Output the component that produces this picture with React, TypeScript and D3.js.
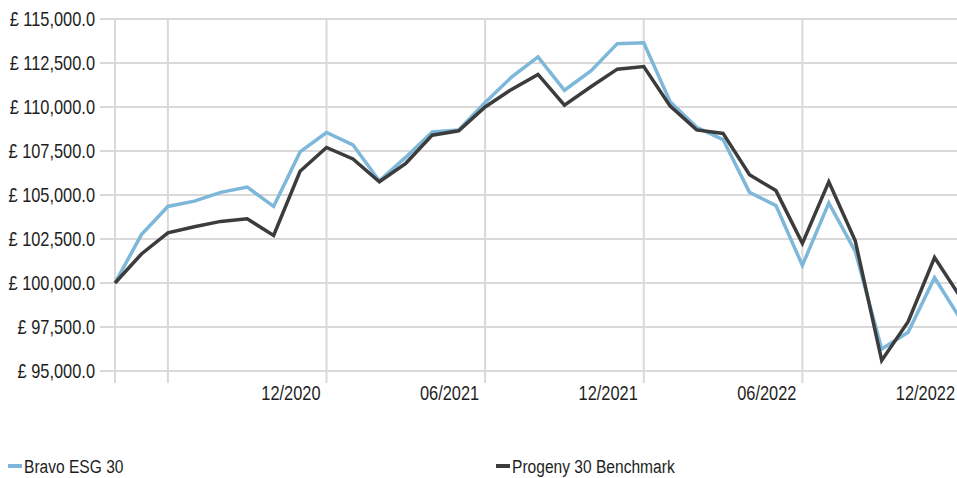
import { useEffect, useRef } from "react"
import * as d3 from "d3"

// monthly values, 04/2020 .. 12/2022
const months = [
  "04/2020", "05/2020", "06/2020", "07/2020", "08/2020", "09/2020", "10/2020", "11/2020", "12/2020",
  "01/2021", "02/2021", "03/2021", "04/2021", "05/2021", "06/2021", "07/2021", "08/2021", "09/2021",
  "10/2021", "11/2021", "12/2021", "01/2022", "02/2022", "03/2022", "04/2022", "05/2022", "06/2022",
  "07/2022", "08/2022", "09/2022", "10/2022", "11/2022", "12/2022",
]

const bravo = [
  100000, 102750, 104350, 104650, 105150, 105450, 104350, 107450, 108550,
  107850, 105800, 107150, 108580, 108700, 110250, 111700, 112850, 110950,
  112050, 113600, 113650, 110300, 108850, 108150, 105150, 104400, 101000,
  104550, 101800, 96250, 97200, 100300, 97900,
]

const progeny = [
  100000, 101650, 102850, 103200, 103500, 103650, 102700, 106350, 107700,
  107050, 105750, 106800, 108400, 108650, 110000, 111000, 111850, 110100,
  111150, 112150, 112300, 110050, 108700, 108500, 106150, 105250, 102250,
  105750, 102400, 95600, 97800, 101450, 99150,
]

const yTicks = [95000, 97500, 100000, 102500, 105000, 107500, 110000, 112500, 115000]
const gridMonths = ["04/2020", "06/2020", "12/2020", "06/2021", "12/2021", "06/2022", "12/2022"]
const labelMonths = ["12/2020", "06/2021", "12/2021", "06/2022", "12/2022"]

const seriesNames = ["Bravo ESG 30", "Progeny 30 Benchmark"]
const seriesColors = ["#7db7da", "#3c3c3c"]

// Arial-metric font squeezed to look like a narrow face
const font = "'Liberation Sans', Arial, sans-serif"
const squeeze = 0.82

export default function App() {
  const svgRef = useRef<SVGSVGElement>(null)

  useEffect(() => {
    if (!svgRef.current) return
    const svg = d3.select(svgRef.current)
    svg.selectAll("*").remove()

    const width = 957
    const height = 478
    const margin = { top: 19, left: 115, bottom: 371 }

    const x = d3
      .scaleLinear()
      .domain([0, months.length - 1])
      .range([margin.left, 961])

    const y = d3.scaleLinear().domain([95000, 115000]).range([margin.bottom, margin.top])

    const fmt = d3.format(",.1f")

    // horizontal grid + y labels
    svg
      .append("g")
      .selectAll("line")
      .data(yTicks)
      .join("line")
      .attr("x1", 100)
      .attr("x2", width)
      .attr("y1", (d) => y(d))
      .attr("y2", (d) => y(d))
      .attr("stroke", "#d9d9d9")
      .attr("stroke-width", 2)

    svg
      .append("g")
      .selectAll("text")
      .data(yTicks)
      .join("text")
      .attr("transform", (d) => `translate(95, ${y(d)}) scale(${squeeze}, 1)`)
      .attr("dy", "0.35em")
      .attr("text-anchor", "end")
      .attr("font-family", font)
      .attr("font-size", 20)
      .attr("fill", "#1e1e1e")
      .text((d) => `£ ${fmt(d)}`)

    // vertical grid
    svg
      .append("g")
      .selectAll("line")
      .data(gridMonths)
      .join("line")
      .attr("x1", (d) => x(months.indexOf(d)))
      .attr("x2", (d) => x(months.indexOf(d)))
      .attr("y1", margin.top)
      .attr("y2", margin.bottom + 12)
      .attr("stroke", "#d9d9d9")
      .attr("stroke-width", 2)

    svg
      .append("g")
      .selectAll("text")
      .data(labelMonths)
      .join("text")
      .attr("transform", (d) => `translate(${x(months.indexOf(d)) - 6}, 400) scale(${squeeze}, 1)`)
      .attr("text-anchor", "end")
      .attr("font-family", font)
      .attr("font-size", 20)
      .attr("fill", "#1e1e1e")
      .text((d) => d)

    // lines
    const line = d3
      .line<number>()
      .x((d, i) => x(i))
      .y((d) => y(d))

    ;[bravo, progeny].forEach((values, k) => {
      svg
        .append("path")
        .datum(values)
        .attr("d", line)
        .attr("fill", "none")
        .attr("stroke", seriesColors[k])
        .attr("stroke-width", 3.5)
        .attr("stroke-linejoin", "miter")
    })

    // legend
    const legendX = [8, 496]
    const legend = svg
      .append("g")
      .selectAll("g")
      .data(seriesNames)
      .join("g")
      .attr("transform", (d, i) => `translate(${legendX[i]}, 466)`)

    legend
      .append("line")
      .attr("x1", 0)
      .attr("x2", 14)
      .attr("stroke", (d, i) => seriesColors[i])
      .attr("stroke-width", 4)

    legend
      .append("text")
      .attr("transform", `translate(16, 0) scale(${squeeze}, 1)`)
      .attr("dy", "0.35em")
      .attr("font-family", font)
      .attr("font-size", 19)
      .attr("fill", "#1e1e1e")
      .text((d) => d)

    svg.attr("width", width).attr("height", height)
  }, [])

  return (
    <div style={{ position: "absolute", left: 0, top: 0, width: 957, height: 478, overflow: "hidden", background: "#fff" }}>
      <svg ref={svgRef} width={957} height={478} style={{ display: "block" }} />
    </div>
  )
}
